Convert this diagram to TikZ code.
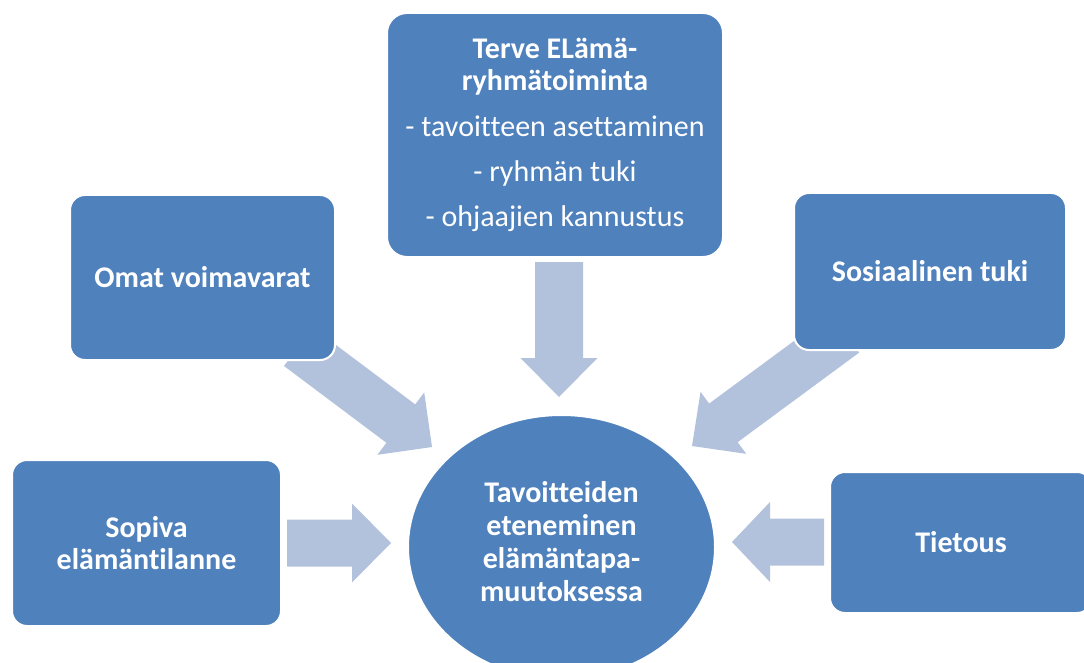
\documentclass[tikz,border=0pt]{standalone}
\usepackage{fontspec}
\setmainfont{Carlito}[Ligatures=NoCommon]
\usetikzlibrary{shapes.geometric}
\definecolor{boxblue}{RGB}{79,129,189}
\definecolor{arrowblue}{RGB}{179,194,220}
% #1 tip coordinate, #2 angle, #3 length, #4 shaft width, #5 head width, #6 head length
\newcommand\blockarr[6]{%
  \fill[arrowblue, shift={(#1)}, rotate=#2]
    (0,0) -- (-#6,#5/2) -- (-#6,#4/2) -- (-#3,#4/2) -- (-#3,-#4/2)
    -- (-#6,-#4/2) -- (-#6,-#5/2) -- cycle;}
\tikzset{
  boxstyle/.style={rectangle, rounded corners=15pt, fill=boxblue, draw=white,
    line width=2pt, text=white, align=center, inner sep=0pt,
    font=\bfseries\fontsize{30}{32}\selectfont},
  goalstyle/.style={ellipse, fill=boxblue, draw=white, line width=2pt, inner sep=0pt},
  goaltext/.style={text=white, align=center, inner sep=0pt,
    font=\bfseries\fontsize{30}{33}\selectfont}
}
\begin{document}
\begin{tikzpicture}[x=1pt,y=-1pt]
\useasboundingbox (0,0) rectangle (1084,663);
\clip (0,0) rectangle (1084,663);
\fill[white] (0,0) rectangle (1084,663);
% arrow tips
\coordinate (tipTop) at (559,397);
\coordinate (tipLeft) at (391,543);
\coordinate (tipRight) at (732,542);
\coordinate (tipLD) at (432,447);
\coordinate (tipRD) at (692,446);
\blockarr{tipTop}{-90}{135}{48}{77}{39}
\blockarr{tipLeft}{0}{104}{47}{79}{39}
\blockarr{tipRight}{180}{92}{47}{80}{38}
\blockarr{tipLD}{-36.87}{167}{48}{78}{39}
\blockarr{tipRD}{216.4}{190}{48}{77}{39}
% boxes
\node[boxstyle, rounded corners=20pt, minimum width=336pt, minimum height=244pt] (terve) at (555,135)
  {Terve ELämä-\\ryhmätoiminta\\[14pt]{\mdseries - tavoitteen asettaminen}\\[13pt]{\mdseries - ryhmän tuki}\\[13pt]{\mdseries - ohjaajien kannustus}};
\node[boxstyle, minimum width=265pt, minimum height=165pt] (omat) at (202.5,277.5) {Omat voimavarat};
\node[boxstyle, minimum width=272pt, minimum height=157pt] (sos) at (930,271.5) {Sosiaalinen tuki};
\node[boxstyle, minimum width=269pt, minimum height=166pt] (sopiva) at (146.5,543) {Sopiva\\elämäntilanne};
\node[boxstyle, minimum width=262pt, minimum height=141pt] (tietous) at (961,542.5) {Tietous};
\node[goalstyle, minimum width=307pt, minimum height=264pt] (goal) at (561.5,547) {};
\node[goaltext] (goaltxt) at ([yshift=5pt]goal.center)
  {Tavoitteiden\\eteneminen\\elämäntapa-\\muutoksessa};
\end{tikzpicture}
\end{document}
